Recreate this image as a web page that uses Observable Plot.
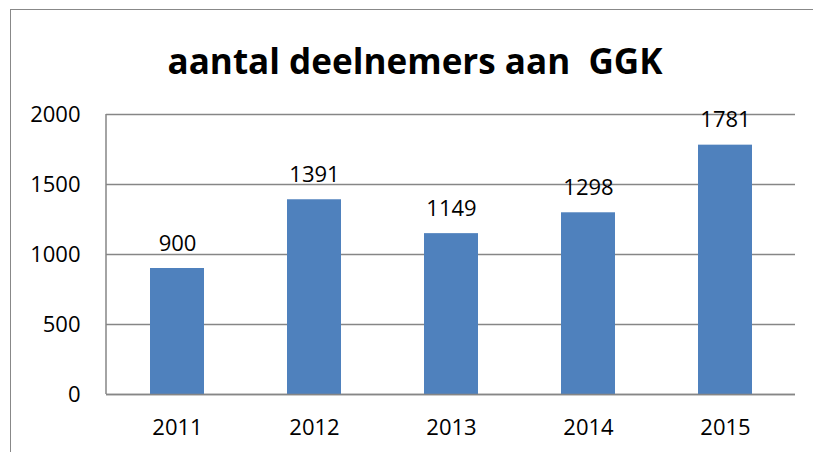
<!DOCTYPE html>
<html>
<head>
<meta charset="utf-8">
<script src="https://cdn.jsdelivr.net/npm/d3@7"></script>
<script src="https://cdn.jsdelivr.net/npm/@observablehq/plot@0.6"></script>
<style>
  html, body { margin: 0; padding: 0; background: #fff; overflow: hidden; }
  #wrap { position: relative; width: 813px; height: 452px; }
  #border { position: absolute; left: 10px; top: 9px; width: 1000px; height: 1000px;
            border-left: 1.5px solid #888; border-top: 1.5px solid #888; box-sizing: border-box; }
  #chart { position: absolute; left: 0; top: 0; }
  svg text { white-space: pre; }
</style>
</head>
<body>
<div id="wrap"><div id="border"></div><div id="chart"></div></div>
<script>
const title = "aantal deelnemers aan  GGK";
const years = ["2011", "2012", "2013", "2014", "2015"];
const values = [900, 1391, 1149, 1298, 1781];
const yTicks = [0, 500, 1000, 1500, 2000];

const data = years.map((year, i) => ({year, value: values[i]}));
const gray = "#868686";

const leftAxisLine = (index, scales, values, dims) => {
  const y = scales.y;
  const g = d3.create("svg:line")
    .attr("x1", dims.marginLeft).attr("x2", dims.marginLeft)
    .attr("y1", y(0)).attr("y2", y(2000))
    .attr("stroke", gray).attr("stroke-width", 1.5);
  return g.node();
};

const svg = Plot.plot({
  width: 813,
  height: 452,
  marginLeft: 106,
  marginRight: 18,
  marginTop: 114,
  marginBottom: 58,
  x: {domain: years, paddingInner: 0.608, paddingOuter: 0.304, label: null, axis: null},
  y: {domain: [0, 2000], label: null, axis: null},
  style: {fontFamily: "'Open Sans', sans-serif", fontSize: "22px", color: "#000", background: "transparent", overflow: "visible"},
  marks: [
    Plot.gridY(yTicks, {stroke: gray, strokeOpacity: 1, strokeWidth: 1.5}),
    Plot.barY(data, {x: "year", y: "value", fill: "#4F81BD"}),
    Plot.ruleY([0], {stroke: gray, strokeWidth: 1.5}),
    leftAxisLine,
    Plot.axisY(yTicks, {tickSize: 0, tickPadding: 26, fontSize: 22, fill: "#000", label: null, tickFormat: d => String(d)}),
    Plot.axisX({tickSize: 0, tickPadding: 25, fontSize: 22, fill: "#000", label: null}),
    Plot.text(data, {x: "year", y: "value", text: d => String(d.value), lineAnchor: "bottom", dy: -18, fontSize: 22, fill: "#000"}),
    Plot.text([title], {frameAnchor: "top", dx: -36, dy: -41, lineAnchor: "bottom", fontSize: 36, fontWeight: "bold", fill: "#000"})
  ]
});

document.getElementById("chart").appendChild(svg);

d3.select(svg).selectAll("text").filter(function() { return this.textContent === title; })
  .attr("textLength", 495).attr("lengthAdjust", "spacingAndGlyphs");
</script>
</body>
</html>
